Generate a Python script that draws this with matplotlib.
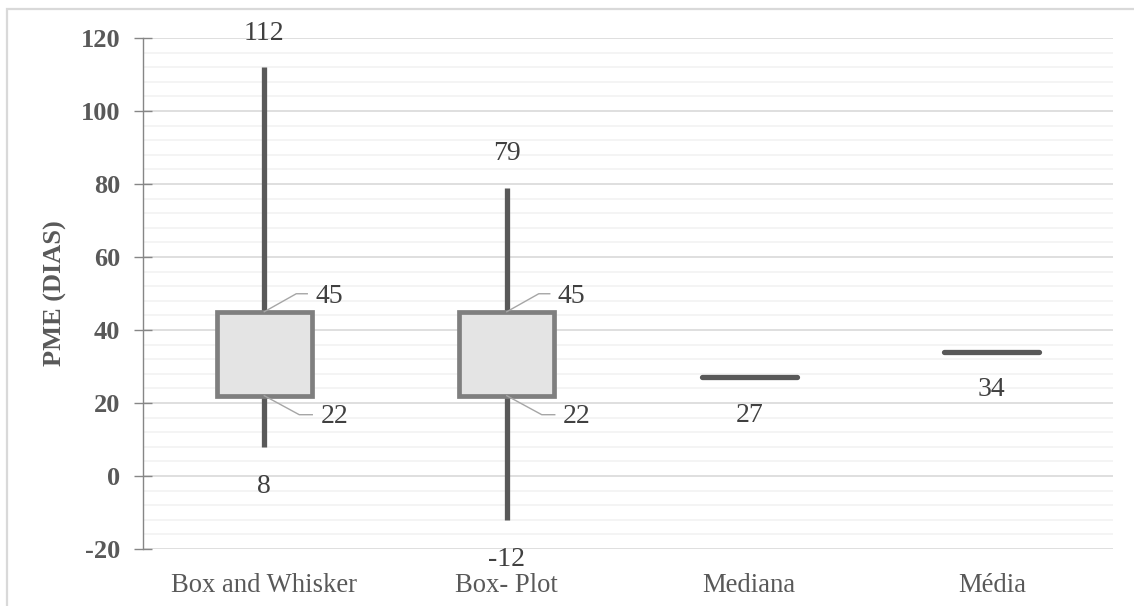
import matplotlib
matplotlib.use("Agg")
import matplotlib.pyplot as plt
from matplotlib.patches import Rectangle
from matplotlib.lines import Line2D
from matplotlib.ticker import MultipleLocator

# ---- data ----
categories = ["Box and Whisker", "Box- Plot", "Mediana", "Média"]
box_names = ["Box and Whisker", "Box- Plot"]
whisker_low = [8, -12]
q1 = [22, 22]
q3 = [45, 45]
whisker_high = [112, 79]
line_values = [27, 34]          # Mediana, Média
y_ticks = [-20, 0, 20, 40, 60, 80, 100, 120]

plt.rcParams['font.family'] = ['Liberation Serif', 'DejaVu Serif']

W, H = 1134, 606
fig = plt.figure(figsize=(W / 100, H / 100), dpi=100)
ax = fig.add_axes([143 / W, 57 / H, 970 / W, 511 / H])

# outer chart frame
fig.patches.append(Rectangle((7 / W, -0.1), 1.2, 1.1 - 9 / H,
                             transform=fig.transFigure, fill=False,
                             edgecolor='#d9d9d9', linewidth=1.6, clip_on=False))

ax.set_xlim(-0.5, len(categories) - 0.5)
ax.set_ylim(min(y_ticks), max(y_ticks))

# grid
ax.yaxis.set_major_locator(MultipleLocator(20))
ax.yaxis.set_minor_locator(MultipleLocator(4))
ax.grid(True, which='major', axis='y', color='#d9d9d9', linewidth=1.2, zorder=0)
ax.grid(True, which='minor', axis='y', color='#f2f2f2', linewidth=1.2, zorder=0)
ax.set_axisbelow(True)

for s in ['top', 'right', 'bottom']:
    ax.spines[s].set_visible(False)
ax.spines['left'].set_color('#868686')
ax.spines['left'].set_linewidth(1.0)

ax.tick_params(axis='y', which='major', direction='inout', length=13, width=1.0,
               color='#868686', pad=10, labelsize=19, labelcolor='#595959')
ax.tick_params(axis='y', which='minor', length=0)
ax.set_yticks(y_ticks)
ax.set_yticklabels([str(v) for v in y_ticks], fontweight='bold')

ax.set_xticks(range(len(categories)))
ax.set_xticklabels(categories, fontsize=19.2, color='#595959')
ax.tick_params(axis='x', length=0, pad=17)

ax.set_ylabel("PME (DIAS)", fontsize=19, fontweight='bold', color='#595959')
ax.yaxis.set_label_coords(-0.078, 0.5)

box_w = 0.39
label_kw = dict(textcoords='offset pixels', fontsize=20, color='#404040')

# boxes with whiskers
for i in range(len(box_names)):
    ax.plot([i, i], [whisker_low[i], whisker_high[i]], color='#595959',
            linewidth=3.8, solid_capstyle='butt', zorder=2)
    ax.add_patch(Rectangle((i - box_w / 2, q1[i]), box_w, q3[i] - q1[i],
                           facecolor='#e4e4e4', edgecolor='#7f7f7f',
                           linewidth=3.4, zorder=3))
    ax.annotate(str(whisker_high[i]), (i, whisker_high[i]), xytext=(0, 34),
                ha='center', va='center', **label_kw)
    ax.annotate(str(whisker_low[i]), (i, whisker_low[i]), xytext=(0, -40),
                ha='center', va='center', **label_kw)
    ax.annotate(str(q3[i]), (i, q3[i]), xytext=(51, 15),
                ha='left', va='center', **label_kw)
    ax.annotate(str(q1[i]), (i, q1[i]), xytext=(56, -21),
                ha='left', va='center', **label_kw)

# mediana / média lines
for j, v in enumerate(line_values):
    i = len(box_names) + j
    ax.plot([i - box_w / 2, i + box_w / 2], [v, v], color='#595959',
            linewidth=3.8, solid_capstyle='round', zorder=3)
    ax.annotate(str(v), (i, v), xytext=(0, -38), ha='center', va='center', **label_kw)

# leader lines (pixel offsets from the data points)
fig.canvas.draw()
for i in range(len(box_names)):
    px, py = ax.transData.transform((i, q3[i]))
    fig.add_artist(Line2D([px, px + 32, px + 43], [py, py + 18, py + 18],
                          transform=None, color='#a6a6a6', linewidth=1.0, zorder=4))
    px, py = ax.transData.transform((i, q1[i]))
    fig.add_artist(Line2D([px, px + 35, px + 48], [py, py - 19, py - 19],
                          transform=None, color='#a6a6a6', linewidth=1.0, zorder=4))

fig.savefig("out.png", dpi=100)
